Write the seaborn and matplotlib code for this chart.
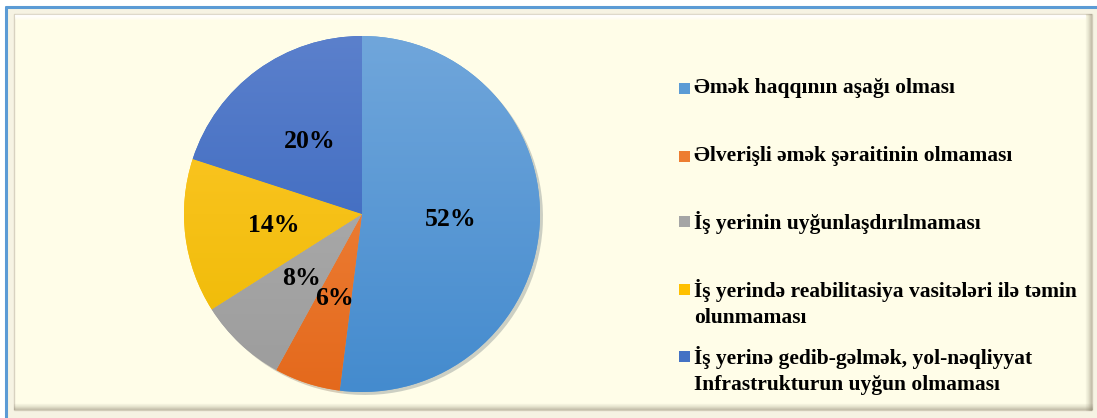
import matplotlib
matplotlib.use("Agg")
import matplotlib.pyplot as plt
import seaborn as sns
import numpy as np
from matplotlib.patches import Rectangle
from matplotlib.lines import Line2D
from matplotlib.colors import LinearSegmentedColormap

# data
categories = [
    "Əmək haqqının aşağı olması",
    "Əlverişli əmək şəraitinin olmaması",
    "İş yerinin uyğunlaşdırılmaması",
    "İş yerində reabilitasiya vasitələri ilə təmin\nolunmaması",
    "İş yerinə gedib-gəlmək, yol-nəqliyyat\nInfrastrukturun uyğun olmaması",
]
shares = [52, 6, 8, 14, 20]
slice_colors = ["#5B9BD5", "#ED7D31", "#A5A5A5", "#FFC000", "#4472C4"]
# top / bottom shades for the gradient fill
grad_top = ["#70A6DB", "#F38D48", "#B3B3B3", "#FFC92E", "#5B80CC"]
grad_bot = ["#448BCE", "#E4691C", "#9C9C9C", "#EDB900", "#2F60BA"]

sns.set_theme(style="white")
FONT = ["Liberation Serif", "DejaVu Serif"]
plt.rcParams["font.family"] = FONT

W, H = 1097, 418
fig = plt.figure(figsize=(W / 100, H / 100), dpi=100, facecolor="white")


def fx(px):
    return px / W


def fy(py):
    return 1 - py / H


# frame / background
fig.patches.append(Rectangle((fx(6), 0), 1 - fx(6), fy(7), transform=fig.transFigure,
                             facecolor="#F6F3E3", edgecolor="none", zorder=0))
fig.patches.append(Rectangle((fx(14), fy(410)), fx(1092) - fx(14), fy(14) - fy(410),
                             transform=fig.transFigure, facecolor="#FFFDE8",
                             edgecolor="#D8D2C0", linewidth=1.0, zorder=0))
# bevel shading bottom and right
for i, a in enumerate([0.05, 0.08, 0.12, 0.18, 0.25, 0.32]):
    fig.lines.append(Line2D([fx(14), fx(1092)], [fy(404 + i), fy(404 + i)],
                            transform=fig.transFigure, color="#6E6650", alpha=a, lw=1.0, zorder=1))
    fig.lines.append(Line2D([fx(1086 + i), fx(1086 + i)], [fy(14), fy(410)],
                            transform=fig.transFigure, color="#6E6650", alpha=a, lw=1.0, zorder=1))
for i, a in enumerate([0.9, 0.8, 0.6, 0.4, 0.2]):
    fig.lines.append(Line2D([fx(15), fx(1085)], [fy(15 + i), fy(15 + i)],
                            transform=fig.transFigure, color="white", alpha=a, lw=1.0, zorder=1))
# blue outer lines
fig.lines.append(Line2D([fx(6), 1], [fy(7), fy(7)], transform=fig.transFigure,
                        color="#5B9BD5", lw=2.2, zorder=2))
fig.lines.append(Line2D([fx(6), fx(6)], [fy(7), 0], transform=fig.transFigure,
                        color="#5B9BD5", lw=2.2, zorder=2))

# pie
cx, cy, r = 362, 214, 178
ax = fig.add_axes([fx(cx - r), fy(cy + r), 2 * r / W, 2 * r / H])
ax.set_zorder(5)
ax.set_facecolor("none")
wedges, texts, autotexts = ax.pie(
    shares, colors=sns.color_palette(slice_colors), startangle=90, counterclock=False,
    autopct=lambda p: f"{p:.0f}%", pctdistance=0.5,
    wedgeprops={"linewidth": 0},
    shadow={"ox": 0.012, "oy": -0.012, "alpha": 0.22},
    textprops={"fontsize": 18.5, "fontweight": "bold", "color": "black", "family": FONT},
)
# vertical gradient inside each wedge
grad = np.linspace(1, 0, 256).reshape(-1, 1)
for w, top, bot in zip(wedges, grad_top, grad_bot):
    cmap = LinearSegmentedColormap.from_list("g", [bot, top])
    im = ax.imshow(grad, cmap=cmap, extent=(-1, 1, -1, 1), aspect="auto", zorder=1.5,
                   vmin=0, vmax=1)
    im.set_clip_path(w)
for t in autotexts:
    t.set_zorder(3)
ax.set_aspect("auto")
ax.set_xlim(-1, 1)
ax.set_ylim(-1, 1)

# legend
marker_y = [88, 156, 221, 289, 356]
for lab, col, my in zip(categories, slice_colors, marker_y):
    fig.patches.append(Rectangle((fx(678.5), fy(my + 5.5)), 11 / W, 11 / H,
                                 transform=fig.transFigure, facecolor=col,
                                 edgecolor="none", zorder=3))
    fig.text(fx(694), fy(my - 10), lab, ha="left", va="top", fontsize=15.5,
             fontweight="bold", color="black", linespacing=1.4, family=FONT, zorder=6)

fig.savefig("out.png", dpi=100, facecolor="white")
